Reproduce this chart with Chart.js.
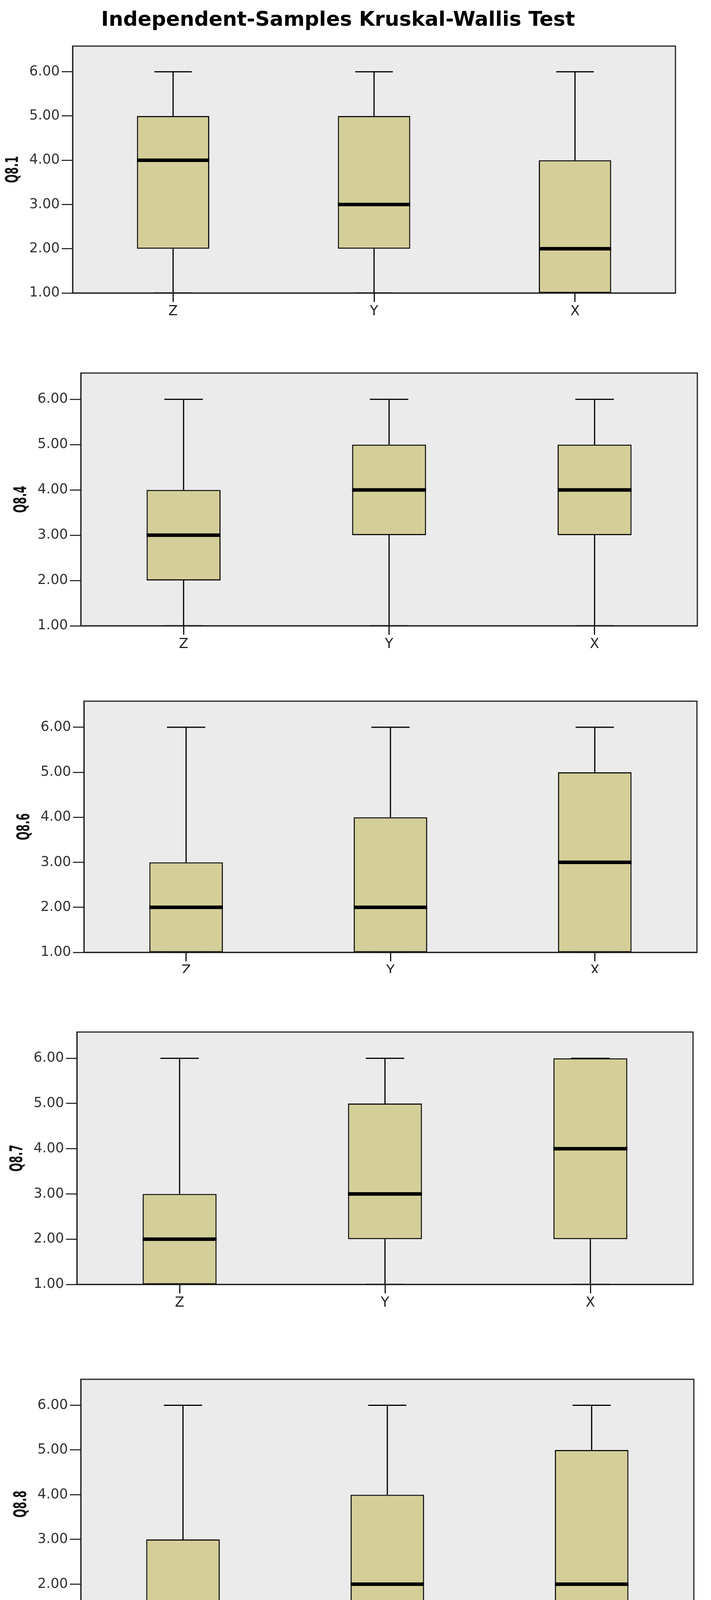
<!DOCTYPE html>
<html>
<head>
<meta charset="utf-8">
<title>Independent-Samples Kruskal-Wallis Test</title>
<script src="https://cdn.jsdelivr.net/npm/chart.js@4.4.0/dist/chart.umd.min.js"></script>
<style>
    html, body { margin: 0; padding: 0; background: #fff; }
    body { width: 1821px; height: 4241px; position: relative; overflow: hidden; }
    #title {
        position: absolute; left: 0; top: 22px; width: 1732px; z-index: 2;
        text-align: center; white-space: nowrap; color: #000;
        font: bold 52px "DejaVu Sans"; line-height: 52px;
    }
    .panel { position: absolute; left: 0; width: 1821px; overflow: hidden; }
</style>
</head>
<body>
<div id="title">Independent-Samples Kruskal-Wallis Test</div>
<script>
// Groups on the x axis, and the y ticks
const CATEGORIES = ['Z', 'Y', 'X'];
const Y_TICKS = [1, 2, 3, 4, 5, 6];
const Y_MIN = 1;
const Y_MAX = 6.58;

// Five-number summary per group (Z, Y, X): [min, q1, median, q3, max]
const Q8_1 = [[1, 2, 4, 5, 6], [1, 2, 3, 5, 6], [1, 1, 2, 4, 6]];
const Q8_4 = [[1, 2, 3, 4, 6], [1, 3, 4, 5, 6], [1, 3, 4, 5, 6]];
const Q8_6 = [[1, 1, 2, 3, 6], [1, 1, 2, 4, 6], [1, 1, 3, 5, 6]];
const Q8_7 = [[1, 1, 2, 3, 6], [1, 2, 3, 5, 6], [1, 2, 4, 6, 6]];
const Q8_8 = [[1, 1, 1, 3, 6], [1, 1, 2, 4, 6], [1, 1, 2, 5, 6]];

const VARIABLES = ['Q8.1', 'Q8.4', 'Q8.6', 'Q8.7', 'Q8.8'];
const SUMMARIES = [Q8_1, Q8_4, Q8_6, Q8_7, Q8_8];

// Where each plot frame sits on the page (the panels were pasted in slightly offset)
const FRAMES = [
    { left: 186, right: 1730, top: 118,  bottom: 750,  cut: null },
    { left: 207, right: 1786, top: 955,  bottom: 1602, cut: null },
    { left: 215, right: 1785, top: 1795, bottom: 2438, cut: 2491 },
    { left: 197, right: 1775, top: 2642, bottom: 3288, cut: null },
    { left: 207, right: 1777, top: 3531, bottom: 4170, cut: null }
];

const ABOVE = 60;      // space kept above each frame
const X_AXIS_H = 80;   // height of the category axis

Chart.defaults.font.family = '"DejaVu Sans", Verdana, sans-serif';

// Draws the grey plot background, whiskers, medians, the frame and the
// narrow bold axis title that SPSS uses
const boxWhiskers = {
    id: 'boxWhiskers',
    beforeDraw(chart) {
        const { ctx, chartArea: a } = chart;
        ctx.save();
        ctx.fillStyle = '#EBEBEB';
        ctx.fillRect(a.left, a.top, a.width, a.height);
        ctx.restore();
    },
    beforeDatasetsDraw(chart) {
        const ctx = chart.ctx;
        const y = chart.scales.y;
        chart.data.datasets.forEach((ds, i) => {
            chart.getDatasetMeta(i).data.forEach((bar, j) => {
                const s = ds.stats[j];
                const cap = bar.width * 0.52;
                ctx.save();
                ctx.strokeStyle = '#000';
                ctx.lineWidth = 3;
                ctx.beginPath();
                ctx.moveTo(bar.x, y.getPixelForValue(s[0]));
                ctx.lineTo(bar.x, y.getPixelForValue(s[1]));
                ctx.moveTo(bar.x, y.getPixelForValue(s[3]));
                ctx.lineTo(bar.x, y.getPixelForValue(s[4]));
                [s[0], s[4]].forEach(v => {
                    const py = y.getPixelForValue(v);
                    ctx.moveTo(bar.x - cap / 2, py);
                    ctx.lineTo(bar.x + cap / 2, py);
                });
                ctx.stroke();
                ctx.restore();
            });
        });
    },
    afterDatasetsDraw(chart) {
        const { ctx, chartArea: a } = chart;
        const y = chart.scales.y;
        chart.data.datasets.forEach((ds, i) => {
            chart.getDatasetMeta(i).data.forEach((bar, j) => {
                const py = y.getPixelForValue(ds.stats[j][2]);
                ctx.save();
                ctx.strokeStyle = '#000';
                ctx.lineWidth = 9;
                ctx.beginPath();
                ctx.moveTo(bar.x - bar.width / 2, py);
                ctx.lineTo(bar.x + bar.width / 2, py);
                ctx.stroke();
                ctx.restore();
            });
        });
        ctx.save();
        ctx.strokeStyle = '#222';
        ctx.lineWidth = 3;
        ctx.strokeRect(a.left, a.top, a.width, a.height);
        ctx.restore();
    },
    afterDraw(chart, args, opts) {
        if (!opts.title) return;
        const { ctx, chartArea: a } = chart;
        ctx.save();
        ctx.translate(a.left - 151, (a.top + a.bottom) / 2);
        ctx.rotate(-Math.PI / 2);
        ctx.scale(0.6, 1);
        ctx.font = 'bold 44px "DejaVu Sans"';
        ctx.fillStyle = '#111';
        ctx.textAlign = 'center';
        ctx.textBaseline = 'middle';
        ctx.fillText(opts.title, 0, 0);
        ctx.restore();
    }
};

// Build one panel
function makePanel(index) {
    const frame = FRAMES[index];
    const stats = SUMMARIES[index];
    const top = frame.top - ABOVE;
    const height = frame.bottom + X_AXIS_H - top;
    const visible = (frame.cut || frame.bottom + X_AXIS_H) - top;

    const wrap = document.createElement('div');
    wrap.className = 'panel';
    wrap.style.top = top + 'px';
    wrap.style.height = visible + 'px';
    const canvas = document.createElement('canvas');
    canvas.width = 1821;
    canvas.height = height;
    canvas.style.width = '1821px';
    canvas.style.height = height + 'px';
    wrap.appendChild(canvas);
    document.body.appendChild(wrap);

    return new Chart(canvas.getContext('2d'), {
        type: 'bar',
        data: {
            labels: CATEGORIES,
            datasets: [{
                data: stats.map(s => [s[1], s[3]]),
                stats: stats,
                backgroundColor: '#D4CF98',
                borderColor: '#111',
                borderWidth: 3,
                borderSkipped: false,
                barPercentage: 0.36,
                categoryPercentage: 1
            }]
        },
        options: {
            responsive: false,
            animation: false,
            devicePixelRatio: 1,
            layout: {
                padding: { left: 0, top: ABOVE, right: 1821 - frame.right, bottom: 0 }
            },
            plugins: {
                legend: { display: false },
                tooltip: { enabled: false },
                boxWhiskers: { title: VARIABLES[index] }
            },
            scales: {
                x: {
                    type: 'category',
                    offset: true,
                    grid: {
                        display: true,
                        offset: false,
                        drawOnChartArea: false,
                        tickLength: 23,
                        tickWidth: 3,
                        tickColor: '#111'
                    },
                    border: { display: true, width: 3, color: '#222' },
                    ticks: { color: '#222', padding: 4, font: { size: 35 } },
                    afterFit: scale => { scale.height = X_AXIS_H; }
                },
                y: {
                    min: Y_MIN,
                    max: Y_MAX,
                    afterBuildTicks: scale => { scale.ticks = Y_TICKS.map(v => ({ value: v })); },
                    grid: {
                        display: true,
                        drawOnChartArea: false,
                        tickLength: 28,
                        tickWidth: 3,
                        tickColor: '#333'
                    },
                    border: { display: true, width: 3, color: '#222' },
                    ticks: {
                        color: '#333',
                        padding: 5,
                        font: { size: 35 },
                        callback: v => Number(v).toFixed(2)
                    },
                    title: { display: false },
                    afterFit: scale => { scale.width = frame.left; }
                }
            }
        },
        plugins: [boxWhiskers]
    });
}

document.addEventListener('DOMContentLoaded', () => {
    VARIABLES.forEach((v, i) => makePanel(i));
});
</script>
</body>
</html>
